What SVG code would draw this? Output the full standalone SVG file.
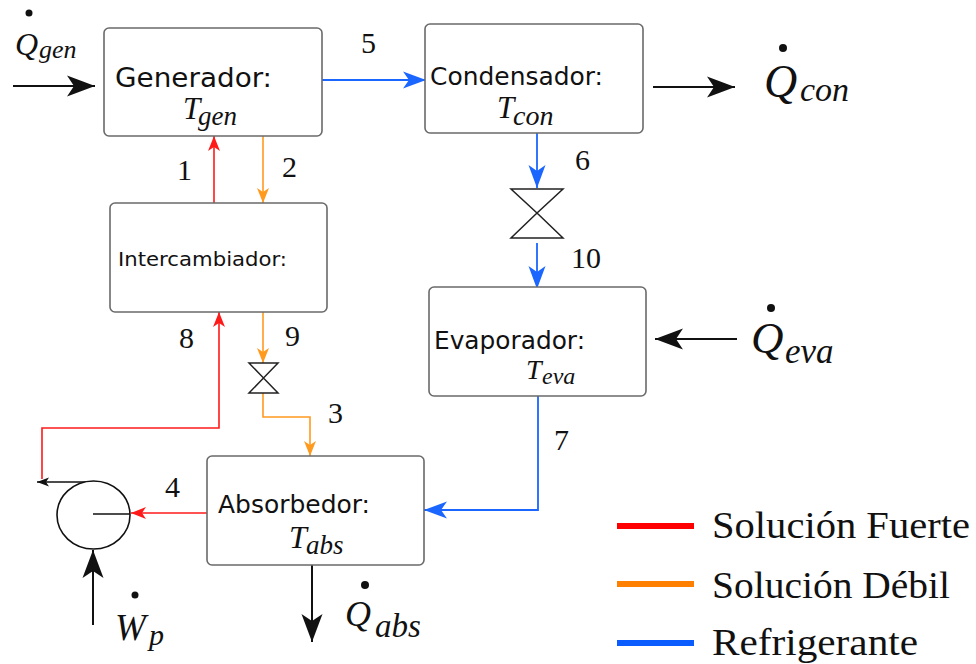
<svg xmlns="http://www.w3.org/2000/svg" width="976" height="664" viewBox="0 0 976 664">
<style>
.box{fill:#ffffff;stroke:#6a6a6a;stroke-width:1.6}
.lbl{font-family:"DejaVu Sans",Verdana,sans-serif;fill:#111}
.num{font-family:"Liberation Serif","Times New Roman",serif;font-size:30px;fill:#111}
.math{font-family:"Liberation Serif","Times New Roman",serif;font-style:italic;fill:#111}
.leg{font-family:"Liberation Serif","Times New Roman",serif;font-size:38px;fill:#111}
.r{stroke:#ff1a1a;stroke-width:1.6;fill:none}
.o{stroke:#ff9a1f;stroke-width:1.6;fill:none}
.b{stroke:#1a66ff;stroke-width:1.8;fill:none}
.k{stroke:#111;stroke-width:2;fill:none}
.ks{stroke:#111;stroke-width:1.3;fill:none}
.valve{fill:#fff;stroke:#222;stroke-width:1.5}
</style>
<defs>
<marker id="mr" markerUnits="userSpaceOnUse" orient="auto" refX="0" refY="0" markerWidth="20" markerHeight="20" overflow="visible"><path d="M0,0 L-15,-6 L-11,0 L-15,6 Z" fill="#ff1a1a"/></marker>
<marker id="mo" markerUnits="userSpaceOnUse" orient="auto" refX="0" refY="0" markerWidth="20" markerHeight="20" overflow="visible"><path d="M0,0 L-15,-6 L-11,0 L-15,6 Z" fill="#ff9a1f"/></marker>
<marker id="mb" markerUnits="userSpaceOnUse" orient="auto" refX="0" refY="0" markerWidth="30" markerHeight="30" overflow="visible"><path d="M0,0 L-23,-8.5 L-17,0 L-23,8.5 Z" fill="#1a66ff"/></marker>
<marker id="mk" markerUnits="userSpaceOnUse" orient="auto" refX="0" refY="0" markerWidth="30" markerHeight="30" overflow="visible"><path d="M0,0 L-28,-10.5 L-21,0 L-28,10.5 Z" fill="#111"/></marker>
<marker id="mks" markerUnits="userSpaceOnUse" orient="auto" refX="0" refY="0" markerWidth="20" markerHeight="20" overflow="visible"><path d="M0,0 L-12,-4.5 L-9,0 L-12,4.5 Z" fill="#111"/></marker>
</defs>

<g id="connectors">
<line class="k" x1="13" y1="86" x2="95" y2="86" marker-end="url(#mk)"/>
<line class="b" x1="322" y1="80" x2="426" y2="80" marker-end="url(#mb)"/>
<line class="k" x1="653" y1="87" x2="735" y2="87" marker-end="url(#mk)"/>
<line class="r" x1="214" y1="203" x2="214" y2="136" marker-end="url(#mr)"/>
<line class="o" x1="263" y1="136" x2="263" y2="203" marker-end="url(#mo)"/>
<line class="b" x1="537" y1="133" x2="537" y2="188" marker-end="url(#mb)"/>
<line class="b" x1="537" y1="243" x2="537" y2="289" marker-end="url(#mb)"/>
<line class="k" x1="737" y1="339" x2="655" y2="339" marker-end="url(#mk)"/>
<polyline class="r" points="42,479 42,428 219,428 219,312" marker-end="url(#mr)"/>
<line class="o" x1="263" y1="312" x2="263" y2="363" marker-end="url(#mo)"/>
<polyline class="o" points="263,393 263,417 310,417 310,456" marker-end="url(#mo)"/>
<line class="r" x1="207" y1="513" x2="131" y2="513" marker-end="url(#mr)"/>
<line class="ks" x1="93" y1="482" x2="37" y2="482" marker-end="url(#mks)"/>
<line class="k" x1="93" y1="625" x2="93" y2="550" marker-end="url(#mk)"/>
<line class="k" x1="312" y1="565" x2="312" y2="642" marker-end="url(#mk)"/>
<polyline class="b" points="538,396 538,510 424,510" marker-end="url(#mb)"/>
</g>

<g id="generador">
<rect class="box" x="104" y="28" width="218" height="108" rx="5"/>
<text class="lbl" x="115" y="87" font-size="26" textLength="157" lengthAdjust="spacingAndGlyphs">Generador:</text>
<text class="math" x="183" y="119" font-size="31"><tspan>T</tspan><tspan x="198" y="125" font-size="27">gen</tspan></text>
</g>

<g id="condensador">
<rect class="box" x="425" y="24" width="218" height="109" rx="5"/>
<text class="lbl" x="430" y="85" font-size="25" textLength="173" lengthAdjust="spacingAndGlyphs">Condensador:</text>
<text class="math" x="497" y="118" font-size="31"><tspan>T</tspan><tspan x="513" y="125" font-size="28">con</tspan></text>
</g>

<g id="intercambiador">
<rect class="box" x="110" y="203" width="217" height="109" rx="5"/>
<text class="lbl" x="118" y="266" font-size="19.5" textLength="169" lengthAdjust="spacingAndGlyphs">Intercambiador:</text>
</g>

<g id="evaporador">
<rect class="box" x="429" y="287" width="217" height="109" rx="5"/>
<text class="lbl" x="434" y="349" font-size="24.5" textLength="151" lengthAdjust="spacingAndGlyphs">Evaporador:</text>
<text class="math" x="526" y="379" font-size="28"><tspan>T</tspan><tspan x="542" y="384" font-size="24">eva</tspan></text>
</g>

<g id="absorbedor">
<rect class="box" x="207" y="456" width="217" height="109" rx="5"/>
<text class="lbl" x="218" y="513" font-size="24.5" textLength="152" lengthAdjust="spacingAndGlyphs">Absorbedor:</text>
<text class="math" x="289" y="548" font-size="32"><tspan>T</tspan><tspan x="306" y="554" font-size="27">abs</tspan></text>
</g>

<g id="valvula-refrigerante">
<path class="valve" d="M511,189 L563,189 L537,213 Z M537,213 L511,238 L563,238 Z"/>
</g>

<g id="valvula-solucion">
<path class="valve" d="M249,363 L278,363 L263.5,378 Z M263.5,378 L249,393 L278,393 Z"/>
</g>

<g id="bomba">
<ellipse cx="93.5" cy="515" rx="36.5" ry="34" fill="#fff" stroke="#111" stroke-width="1.6"/>
<line x1="93" y1="514" x2="130" y2="514" stroke="#111" stroke-width="1.6"/>
</g>

<g id="numeros">
<text class="num" x="361" y="53">5</text>
<text class="num" x="177" y="180">1</text>
<text class="num" x="282" y="177">2</text>
<text class="num" x="575" y="170">6</text>
<text class="num" x="571" y="268">10</text>
<text class="num" x="179" y="348">8</text>
<text class="num" x="285" y="346">9</text>
<text class="num" x="328" y="423">3</text>
<text class="num" x="165" y="497">4</text>
<text class="num" x="554" y="450">7</text>
</g>

<g id="Q-gen">
<circle cx="29" cy="13" r="3.5" fill="#111"/>
<text class="math" x="15" y="55" font-size="32"><tspan>Q</tspan><tspan x="39" y="58" font-size="26">gen</tspan></text>
</g>

<g id="Q-con">
<circle cx="783" cy="48" r="4" fill="#111"/>
<text class="math" x="764" y="97" font-size="46"><tspan>Q</tspan><tspan x="800" y="101" font-size="34">con</tspan></text>
</g>

<g id="Q-eva">
<circle cx="771" cy="308" r="4" fill="#111"/>
<text class="math" x="751" y="353" font-size="45"><tspan>Q</tspan><tspan x="785" y="363" font-size="35">eva</tspan></text>
</g>

<g id="Q-abs">
<circle cx="365" cy="585" r="4" fill="#111"/>
<text class="math" x="345" y="626" font-size="36"><tspan>Q</tspan><tspan x="375" y="637" font-size="33">abs</tspan></text>
</g>

<g id="W-p">
<circle cx="135" cy="595" r="3.5" fill="#111"/>
<text class="math" x="115" y="640" font-size="37"><tspan>W</tspan><tspan x="149" y="645" font-size="30">p</tspan></text>
</g>

<g id="leyenda">
<line x1="617" y1="526" x2="694" y2="526" stroke="#ff0000" stroke-width="6"/>
<line x1="617" y1="584" x2="694" y2="584" stroke="#ff8000" stroke-width="6"/>
<line x1="617" y1="643" x2="694" y2="643" stroke="#0a5cff" stroke-width="6"/>
<text class="leg" x="712" y="538" textLength="258" lengthAdjust="spacingAndGlyphs">Solución Fuerte</text>
<text class="leg" x="712" y="598" textLength="238" lengthAdjust="spacingAndGlyphs">Solución Débil</text>
<text class="leg" x="712" y="655" textLength="206" lengthAdjust="spacingAndGlyphs">Refrigerante</text>
</g>
</svg>
